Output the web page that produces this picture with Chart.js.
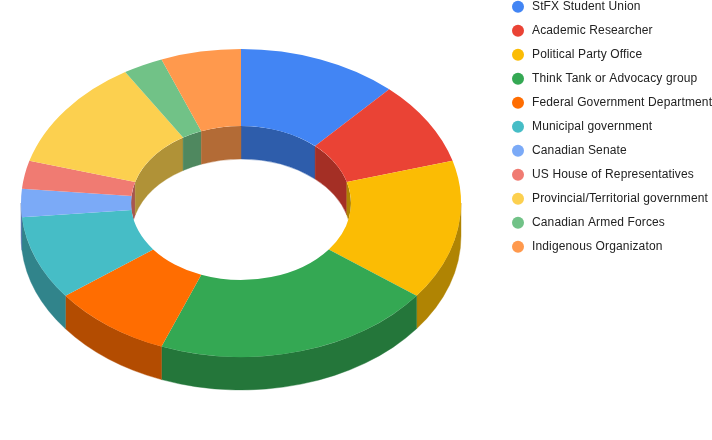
<!DOCTYPE html>
<html><head><meta charset="utf-8">
<style>html,body{margin:0;padding:0;background:#fff;overflow:hidden}canvas{display:block}</style>
<script src="https://cdn.jsdelivr.net/npm/chart.js@4"></script>
</head><body>
<canvas id="c" width="712" height="440"></canvas>
<script>
const categories = ["StFX Student Union","Academic Researcher","Political Party Office","Think Tank or Advocacy group","Federal Government Department","Municipal government","Canadian Senate","US House of Representatives","Provincial/Territorial government","Canadian Armed Forces","Indigenous Organizaton"];
const values = [4,3,5,7,3,3,1,1,4,1,2];
const colors = ["#4285f4","#ea4335","#fbbc04","#34a853","#ff6d01","#46bdc6","#7baaf7","#f07b72","#fcd04f","#71c287","#ff994d"];

const CENTER_X = 241, CENTER_Y = 203, SQUASH = 0.7, DEPTH = 33, SHADE = 0.7;
const LEGEND_X = 510, LEGEND_GAP = 12, LEGEND_TOP = 1;

function shade(hex){
  const n = parseInt(hex.slice(1),16);
  return `rgb(${Math.round((n>>16&255)*SHADE)},${Math.round((n>>8&255)*SHADE)},${Math.round((n&255)*SHADE)})`;
}
function dot(color){
  const c = document.createElement('canvas'); c.width = c.height = 14;
  const x = c.getContext('2d'); x.fillStyle = color;
  x.beginPath(); x.arc(7,6.7,6,0,Math.PI*2); x.fill();
  return c;
}
function wall(ctx, r, a0, a1, color){
  if (a1 <= a0) return;
  ctx.beginPath();
  ctx.ellipse(CENTER_X, CENTER_Y, r, r*SQUASH, 0, a0, a1);
  ctx.ellipse(CENTER_X, CENTER_Y+DEPTH, r, r*SQUASH, 0, a1, a0, true);
  ctx.closePath();
  ctx.fillStyle = color; ctx.fill();
  ctx.strokeStyle = color; ctx.lineWidth = 0.4; ctx.stroke();
}
const tilt = {
  id:'tilt',
  afterLayout(chart){
    chart.legend.left = LEGEND_X - LEGEND_GAP;
    chart.legend.top = LEGEND_TOP - LEGEND_GAP;
  },
  beforeDraw(chart){ chart.ctx.letterSpacing = '0.14px'; },
  beforeDatasetDraw(chart, args){
    const ctx = chart.ctx, arcs = chart.getDatasetMeta(args.index).data;
    const first = arcs[0];
    // outer wall: near (lower) half
    arcs.forEach((a,i)=>{
      wall(ctx, a.outerRadius, Math.max(a.startAngle,0), Math.min(a.endAngle,Math.PI), shade(colors[i]));
    });
    // inner wall: far (upper) half, seen through the hole
    ctx.save();
    ctx.beginPath();
    ctx.ellipse(CENTER_X, CENTER_Y, first.innerRadius, first.innerRadius*SQUASH, 0, 0, Math.PI*2);
    ctx.clip();
    arcs.forEach((a,i)=>{
      wall(ctx, a.innerRadius, a.startAngle, Math.min(a.endAngle,0), shade(colors[i]));
      wall(ctx, a.innerRadius, Math.max(a.startAngle,Math.PI), a.endAngle, shade(colors[i]));
    });
    ctx.restore();
    ctx.save();
    ctx.translate(CENTER_X, CENTER_Y);
    ctx.scale(1, SQUASH);
    ctx.translate(-first.x, -first.y);
  },
  afterDatasetDraw(chart){ chart.ctx.restore(); }
};
new Chart(document.getElementById('c'),{
  type:'doughnut',
  data:{labels:categories,datasets:[{data:values,backgroundColor:colors,borderWidth:0,clip:false}]},
  plugins:[tilt],
  options:{
    responsive:false,animation:false,cutout:'50%',
    plugins:{
      tooltip:{enabled:false},
      legend:{
        position:'right',align:'start',
        labels:{
          font:{family:'"Liberation Sans", Arial, sans-serif',size:12},
          color:'#222222',usePointStyle:true,pointStyleWidth:16,padding:LEGEND_GAP,
          generateLabels(chart){
            return Chart.overrides.doughnut.plugins.legend.labels.generateLabels(chart)
              .map((l,i)=>({...l,pointStyle:dot(colors[i])}));
          }
        }
      }
    }
  }
});
</script>
</body></html>
